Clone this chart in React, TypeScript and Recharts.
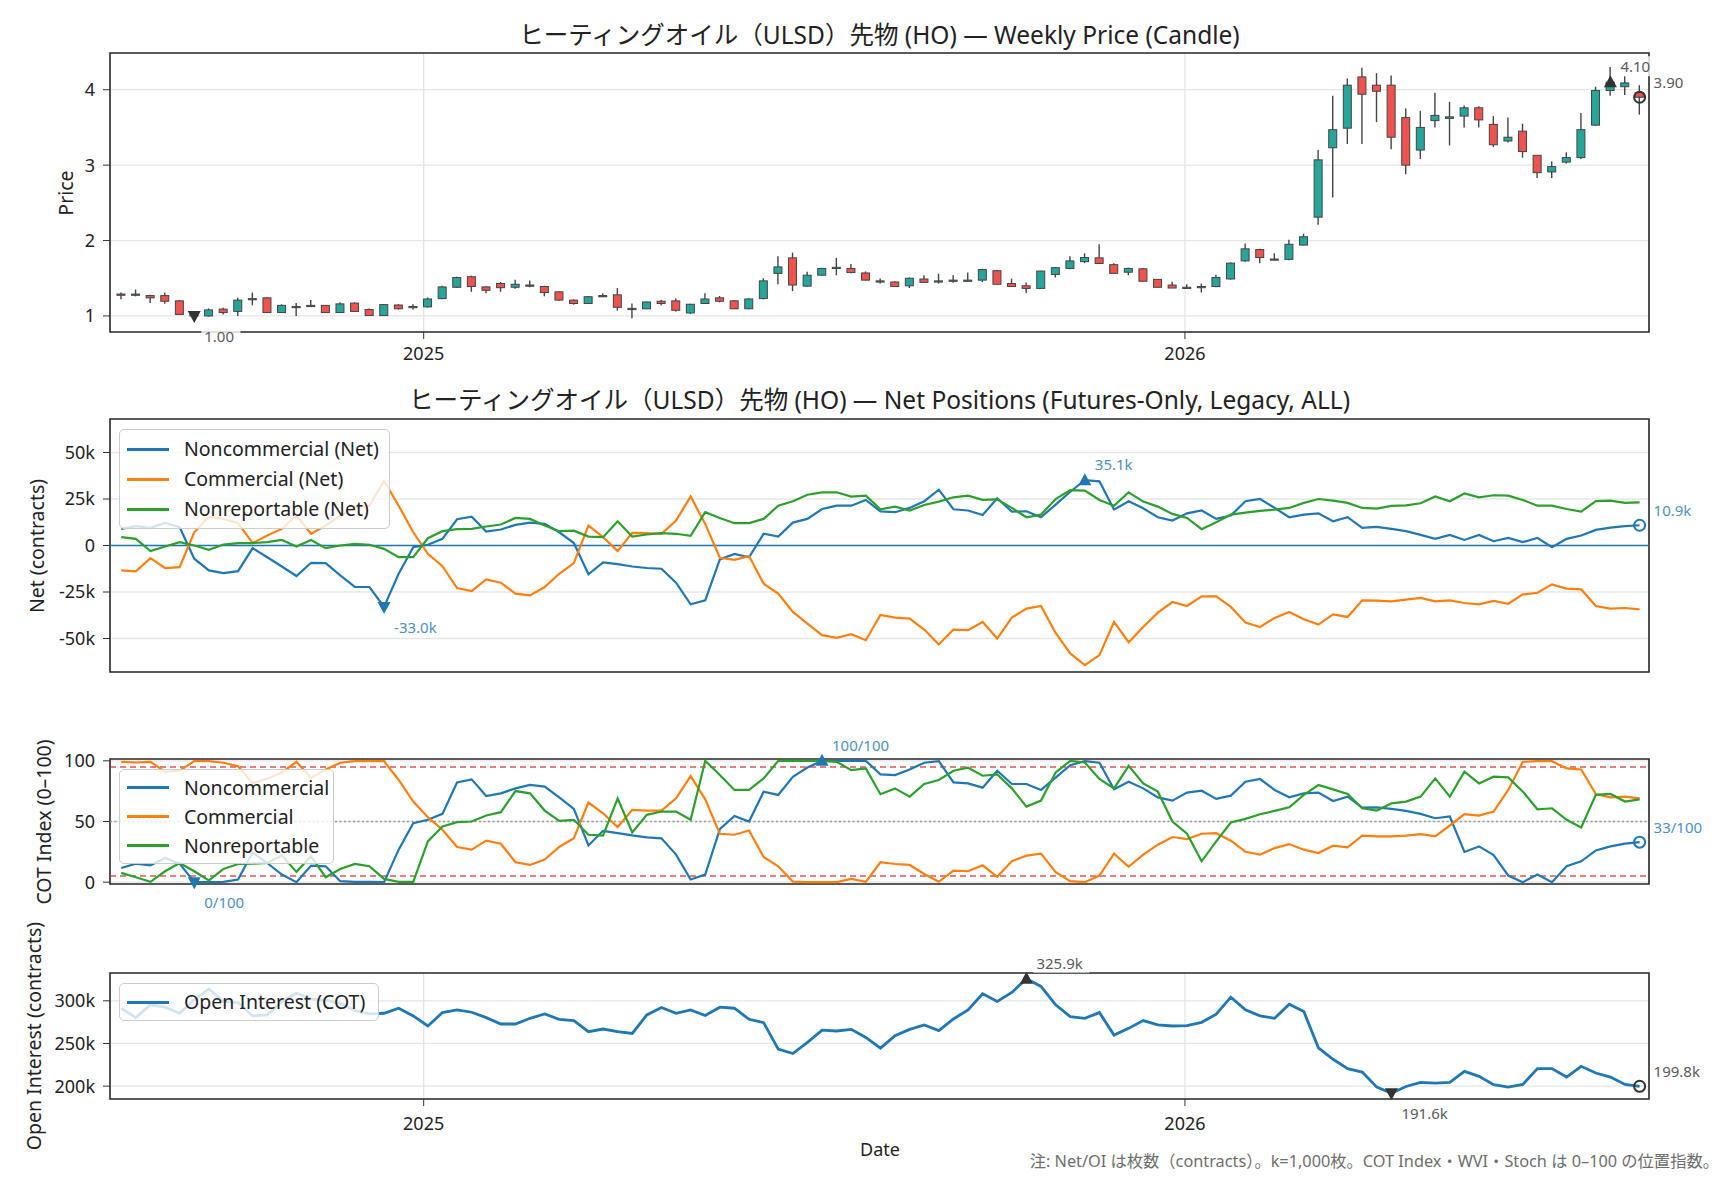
import React from "react";
import {
    Bar,
    CartesianGrid,
    ComposedChart,
    Legend,
    Line,
    ReferenceArea,
    ReferenceLine,
    XAxis,
    YAxis,
} from "recharts";

// weekly bars, first week = 2024-08-09
const FIRST_WEEK = Date.UTC(2024, 7, 9);
const DAY_MS = 24 * 3600 * 1000;
const WEEK_MS = 7 * DAY_MS;
const YEAR_TICKS = [Date.UTC(2025, 0, 1), Date.UTC(2026, 0, 1)];
const X_DOMAIN = [FIRST_WEEK - 5.4 * DAY_MS, FIRST_WEEK + 732.5 * DAY_MS];

const open = [1.29, 1.28, 1.27, 1.27, 1.20, 1.03, 1.00, 1.09, 1.06, 1.22,
    1.24, 1.045, 1.12, 1.135, 1.14, 1.045, 1.17, 1.085, 1.005, 1.145,
    1.12, 1.12, 1.23, 1.38, 1.52, 1.385, 1.43, 1.38, 1.40, 1.39,
    1.32, 1.21, 1.165, 1.26, 1.28, 1.10, 1.095, 1.195, 1.20, 1.04,
    1.165, 1.24, 1.20, 1.095, 1.23, 1.565, 1.77, 1.395, 1.54, 1.635,
    1.63, 1.57, 1.46, 1.45, 1.40, 1.49, 1.455, 1.47, 1.47, 1.475,
    1.60, 1.43, 1.40, 1.365, 1.55, 1.63, 1.72, 1.77, 1.68, 1.58,
    1.625, 1.485, 1.41, 1.38, 1.385, 1.39, 1.49, 1.73, 1.88, 1.75,
    1.75, 1.94, 2.31, 3.23, 3.49, 4.17, 4.06, 4.06, 3.63, 3.20,
    3.59, 3.62, 3.65, 3.76, 3.54, 3.32, 3.45, 3.13, 2.91, 3.04,
    3.10, 3.53, 3.99, 4.04, 3.96];
const high = [1.31, 1.35, 1.28, 1.31, 1.21, 1.05, 1.10, 1.11, 1.24, 1.31,
    1.245, 1.155, 1.17, 1.21, 1.145, 1.18, 1.18, 1.10, 1.155, 1.155,
    1.155, 1.245, 1.40, 1.52, 1.535, 1.395, 1.45, 1.48, 1.47, 1.40,
    1.325, 1.22, 1.265, 1.30, 1.37, 1.165, 1.19, 1.21, 1.23, 1.16,
    1.30, 1.265, 1.21, 1.235, 1.50, 1.79, 1.84, 1.585, 1.64, 1.77,
    1.69, 1.59, 1.495, 1.46, 1.51, 1.54, 1.56, 1.54, 1.575, 1.625,
    1.61, 1.495, 1.445, 1.60, 1.645, 1.79, 1.83, 1.95, 1.70, 1.64,
    1.635, 1.49, 1.455, 1.42, 1.43, 1.545, 1.71, 1.96, 1.89, 1.83,
    2.01, 2.09, 3.20, 3.92, 4.15, 4.29, 4.22, 4.19, 3.75, 3.72,
    3.96, 3.84, 3.79, 3.78, 3.65, 3.63, 3.55, 3.13, 3.05, 3.17,
    3.69, 4.04, 4.30, 4.18, 4.06];
const low = [1.22, 1.26, 1.17, 1.16, 1.02, 0.97, 0.99, 1.02, 1.00, 1.14,
    1.04, 1.04, 1.00, 1.12, 1.04, 1.04, 1.06, 1.00, 1.00, 1.085,
    1.085, 1.11, 1.22, 1.37, 1.32, 1.30, 1.32, 1.36, 1.38, 1.26,
    1.20, 1.15, 1.16, 1.25, 1.07, 0.97, 1.09, 1.14, 1.06, 1.025,
    1.16, 1.18, 1.095, 1.09, 1.22, 1.42, 1.33, 1.39, 1.535, 1.54,
    1.565, 1.47, 1.43, 1.385, 1.37, 1.44, 1.43, 1.44, 1.46, 1.45,
    1.42, 1.39, 1.305, 1.36, 1.51, 1.62, 1.70, 1.69, 1.565, 1.54,
    1.46, 1.38, 1.37, 1.37, 1.31, 1.38, 1.48, 1.72, 1.70, 1.745,
    1.74, 1.935, 2.21, 2.57, 3.28, 3.28, 3.57, 3.21, 2.88, 3.08,
    3.50, 3.26, 3.50, 3.50, 3.24, 3.30, 3.10, 2.83, 2.83, 3.02,
    3.08, 3.52, 3.92, 3.93, 3.67];
const close = [1.28, 1.29, 1.24, 1.195, 1.02, 1.00, 1.08, 1.045, 1.21, 1.23,
    1.045, 1.14, 1.125, 1.14, 1.045, 1.16, 1.06, 1.005, 1.15, 1.095,
    1.125, 1.225, 1.385, 1.51, 1.39, 1.34, 1.375, 1.42, 1.41, 1.31,
    1.21, 1.165, 1.255, 1.27, 1.115, 1.095, 1.185, 1.165, 1.075, 1.155,
    1.225, 1.195, 1.095, 1.225, 1.465, 1.65, 1.41, 1.54, 1.63, 1.645,
    1.575, 1.475, 1.465, 1.39, 1.50, 1.445, 1.465, 1.475, 1.475, 1.615,
    1.42, 1.39, 1.365, 1.595, 1.64, 1.73, 1.775, 1.695, 1.565, 1.63,
    1.46, 1.38, 1.37, 1.38, 1.39, 1.51, 1.70, 1.89, 1.775, 1.755,
    1.95, 2.05, 3.07, 3.47, 4.06, 3.94, 3.98, 3.37, 3.00, 3.50,
    3.66, 3.64, 3.76, 3.60, 3.27, 3.37, 3.18, 2.90, 2.98, 3.10,
    3.47, 3.99, 4.10, 4.09, 3.90];

// net positions, contracts
const ncNet = [8900, 10400, 9500, 12100, 9800, -7100, -13400, -14800, -13800, -1400,
    -6300, -11300, -16400, -9300, -9500, -16100, -22300, -22300, -33000, -15200,
    -900, 400, 3600, 14100, 15500, 7500, 8600, 11100, 12300, 11600,
    7100, 1300, -15500, -9100, -10000, -11300, -12100, -12500, -20000, -31600,
    -29500, -7500, -4500, -6300, 6300, 4800, 12300, 14300, 19600, 21400,
    21400, 24500, 18300, 17900, 20200, 23800, 30000, 19500, 18800, 16400,
    25400, 18200, 18400, 15200, 22000, 28900, 35100, 34500, 19300, 23800,
    20000, 15200, 13400, 17300, 18800, 14300, 16100, 23800, 25000, 20200,
    15200, 16600, 17300, 13000, 15200, 9500, 10000, 8900, 7700, 5700,
    3600, 5700, 3000, 5700, 2300, 4100, 1800, 4100, -900, 3600,
    5400, 8400, 9600, 10400, 10900];
const cNet = [-13400, -13900, -6800, -12100, -11600, 7100, 15500, 14300, 12000, 1300,
    5400, 8900, 16100, 6300, 10700, 16100, 20500, 21400, 34800, 21400,
    7100, -4500, -11100, -22900, -24500, -18200, -20000, -25900, -26800, -22300,
    -15200, -9500, 10700, 4500, -3000, 6800, 6600, 6300, 13400, 26300,
    11600, -6600, -7700, -5700, -20500, -25900, -35700, -42000, -48200, -49600,
    -47700, -50900, -37300, -38800, -39300, -45200, -53200, -45200, -45500, -41100,
    -50000, -38800, -33900, -32500, -47000, -58000, -64300, -58900, -41100, -52000,
    -43800, -36100, -30400, -32500, -27300, -27300, -33000, -41400, -43800, -38900,
    -35700, -39600, -42500, -37000, -38400, -29500, -29600, -30000, -29100, -28200,
    -30000, -29500, -30900, -31600, -29800, -31300, -26300, -25400, -20900, -23200,
    -23600, -32500, -33900, -33600, -34300];
const nrNet = [4500, 3600, -3000, -500, 1800, 0, -2300, 500, 1300, 1300,
    1800, 3000, -500, 3000, -1400, 0, 900, 400, -1800, -6300,
    -6300, 3900, 7700, 8800, 8900, 10200, 11300, 14800, 14300, 10700,
    7700, 8000, 4800, 4500, 13000, 4800, 5900, 6600, 6300, 5200,
    17900, 14800, 12000, 12000, 14300, 21400, 23800, 27300, 28600, 28600,
    26300, 26800, 19500, 20900, 18800, 21800, 23600, 25900, 26800, 24500,
    24800, 20200, 15200, 16600, 25000, 29800, 29500, 24500, 21400, 28600,
    23600, 20900, 17000, 14800, 8800, 12500, 16600, 17700, 18600, 19300,
    20200, 22900, 25000, 24100, 22900, 20200, 19800, 21300, 21600, 22700,
    26400, 23800, 28000, 25900, 27000, 26800, 24500, 21400, 21400, 19600,
    18200, 23900, 24100, 22900, 23200];

// COT index 0-100
const ncIdx = [11.7, 15.3, 13.9, 19.9, 15.3, 0, 0, 0.3, 2.2, 24.6,
    15.8, 6.3, 0, 13.7, 13.1, 0.8, 0.3, 0.3, 0, 26.8,
    48.6, 51.4, 56.3, 82.2, 84.7, 71.0, 73.2, 77.3, 80.1, 78.7,
    69.9, 60.4, 30.3, 42.3, 40.4, 38.5, 36.9, 36.1, 22.7, 2.2,
    6.3, 43.7, 54.6, 50.0, 74.6, 71.9, 86.9, 94.5, 100, 100,
    100, 100, 88.8, 88.3, 92.9, 98.4, 99.7, 82.2, 81.4, 77.9,
    91.8, 80.9, 80.9, 76.0, 86.1, 96.4, 99.7, 98.4, 76.5, 82.8,
    77.3, 69.9, 67.2, 73.8, 75.4, 68.6, 71.3, 82.8, 85.0, 76.0,
    69.9, 73.2, 73.8, 66.9, 70.5, 61.5, 61.7, 60.4, 58.7, 56.3,
    52.7, 54.1, 24.9, 29.5, 22.4, 5.5, 0, 6.3, 0, 13.1,
    17.2, 26.2, 29.5, 31.7, 33];
const cIdx = [99.2, 98.6, 99.2, 91.0, 91.8, 99.7, 99.7, 98.4, 95.6, 81.4,
    85.5, 90.4, 99.2, 86.1, 92.9, 98.4, 99.7, 99.7, 99.7, 84.2,
    66.4, 53.6, 43.2, 29.0, 26.8, 34.2, 31.7, 16.4, 14.2, 18.6,
    29.0, 36.3, 65.6, 56.8, 45.4, 59.6, 59.0, 59.0, 69.1, 87.4,
    68.3, 39.9, 39.1, 42.6, 20.8, 13.1, 0.5, 0, 0, 0,
    2.7, 0.3, 16.4, 15.0, 14.2, 6.8, 0.3, 9.6, 9.0, 13.9,
    4.4, 17.2, 21.9, 23.5, 8.2, 0.8, 0, 5.5, 23.5, 12.6,
    22.7, 30.9, 37.2, 35.5, 39.9, 40.4, 34.2, 25.1, 22.7, 28.1,
    31.4, 26.8, 24.0, 30.1, 28.7, 38.3, 37.7, 37.7, 38.3, 39.6,
    37.7, 46.7, 56.0, 54.9, 58.2, 76.0, 99.2, 99.7, 99.7, 93.7,
    92.9, 72.7, 69.9, 70.5, 69.1];
const nrIdx = [7.7, 4.1, 0.3, 9.0, 15.8, 9.0, 1.4, 10.9, 15.0, 15.3,
    15.8, 22.1, 8.5, 21.3, 4.1, 10.9, 15.0, 13.1, 2.7, 0.3,
    0.3, 33.6, 45.9, 49.5, 50.0, 54.9, 57.7, 75.1, 73.2, 59.0,
    50.5, 51.4, 39.1, 38.3, 69.1, 41.0, 55.5, 58.2, 58.2, 51.4,
    100, 88.3, 76.0, 76.0, 85.5, 100, 100, 100, 100, 99.2,
    92.3, 93.7, 72.5, 77.3, 70.5, 80.9, 84.2, 91.8, 94.3, 87.7,
    88.8, 77.3, 62.3, 67.2, 90.4, 100, 98.6, 85.0, 77.3, 95.9,
    81.4, 74.6, 50.0, 39.9, 17.2, 33.6, 49.2, 52.2, 56.0, 58.7,
    61.7, 71.9, 80.1, 76.5, 72.7, 60.9, 59.0, 65.0, 66.4, 70.5,
    85.5, 70.5, 91.0, 81.4, 86.9, 86.3, 74.6, 60.1, 60.9, 51.4,
    45.1, 71.9, 72.7, 66.4, 68.3];

const openInterest = [291300, 280300, 295300, 292500, 285400, 301200, 313800, 299200, 298000, 282300,
    283500, 299200, 309100, 302000, 300400, 297200, 288600, 284600, 285400, 291300,
    282300, 270500, 286200, 289400, 286600, 280300, 272800, 272800, 279500, 284600,
    278300, 276800, 263800, 266900, 263800, 261800, 283500, 292100, 285400, 289400,
    282700, 292500, 291300, 278300, 274400, 243300, 238200, 251200, 265700, 264600,
    266500, 257100, 244500, 259100, 266500, 271700, 265000, 278700, 289400, 308300,
    299200, 309800, 325900, 316900, 295300, 281500, 279500, 286200, 259800, 267700,
    276800, 271700, 270500, 270900, 274800, 284300, 304300, 289400, 282300, 279500,
    296100, 287400, 244900, 231500, 220500, 216500, 198800, 191600, 199600, 204300,
    203500, 204300, 217300, 211400, 201600, 198800, 202000, 220500, 220500, 210600,
    223200, 215400, 210600, 202000, 199800];

const PRICE_TICKS = [1, 2, 3, 4];
const NET_TICKS = [-50000, -25000, 0, 25000, 50000];
const IDX_TICKS = [0, 50, 100];
const OI_TICKS = [200000, 250000, 300000];

const TITLE_PRICE = "ヒーティングオイル（ULSD）先物 (HO) — Weekly Price (Candle)";
const TITLE_NET = "ヒーティングオイル（ULSD）先物 (HO) — Net Positions (Futures-Only, Legacy, ALL)";
const FOOTNOTE = "注: Net/OI は枚数（contracts）。k=1,000枚。COT Index・WVI・Stoch は 0–100 の位置指数。";

const BLUE = "#1f77b4";
const ORANGE = "#ff7f0e";
const GREEN = "#2ca02c";
const UP = "#26a69a";
const DOWN = "#ef5350";
const SANS = '"Noto Sans", "Noto Sans CJK JP", sans-serif';

const rows = close.map((c, i) => ({
    t: FIRST_WEEK + i * WEEK_MS,
    o: open[i],
    h: high[i],
    l: low[i],
    c,
    range: [low[i], high[i]],
    nc: ncNet[i],
    cm: cNet[i],
    nr: nrNet[i],
    nci: ncIdx[i],
    cmi: cIdx[i],
    nri: nrIdx[i],
    oi: openInterest[i],
}));

const CHART_W = 1728;
const MARGIN_R = 79;
const AXIS_W = 110;

const tickStyle = { fill: "#222", fontSize: 18, fontFamily: SANS };
const yearLabel = (v: number) => String(new Date(v).getUTCFullYear());
const kLabel = (v: number) => (v === 0 ? "0" : `${v / 1000}k`);

function Candle(props: any) {
    const { x, y, width, height, payload } = props;
    if (x == null || y == null) return <g />;
    const top = Math.min(y, y + height);
    const bot = Math.max(y, y + height);
    const { o, h, l, c } = payload;
    const py = (v: number) => top + ((h - v) / (h - l)) * (bot - top);
    const cx = x + width / 2;
    const yo = py(o);
    const yc = py(c);
    const bt = Math.min(yo, yc);
    const bh = Math.max(Math.abs(yo - yc), 1.2);
    return (
        <g>
            <line x1={cx} x2={cx} y1={top} y2={bot} stroke="#444" strokeWidth={1.4} />
            <rect x={x} y={bt} width={width} height={bh} fill={c >= o ? UP : DOWN} stroke="#444" strokeWidth={1} />
        </g>
    );
}

// triangle at max / min, open circle at the last point, each with a value label
function markers(values: number[], color: string, labelColor: string, fmt: (v: number) => string) {
    const minI = values.indexOf(Math.min(...values));
    const maxI = values.indexOf(Math.max(...values));
    const lastI = values.length - 1;
    return (props: any) => {
        const { cx, cy, index } = props;
        if (cx == null || (index !== minI && index !== maxI && index !== lastI)) {
            return <g key={`m${index}`} />;
        }
        const text = fmt(values[index]);
        let shape;
        let lx;
        let ly;
        if (index === lastI) {
            shape = <circle cx={cx} cy={cy} r={5.5} fill="none" stroke={color} strokeWidth={2} />;
            lx = cx + 14;
            ly = cy - 15;
        } else if (index === maxI) {
            shape = <path d={`M${cx},${cy - 7} L${cx + 6.5},${cy + 5} L${cx - 6.5},${cy + 5} Z`} fill={color} />;
            lx = cx + 10;
            ly = cy - 16;
        } else {
            shape = <path d={`M${cx},${cy + 7} L${cx + 6.5},${cy - 5} L${cx - 6.5},${cy - 5} Z`} fill={color} />;
            lx = cx + 10;
            ly = cy + 20;
        }
        const w = text.length * 8.3 + 6;
        return (
            <g key={`m${index}`}>
                {shape}
                <rect x={lx - 3} y={ly - 10} width={w} height={20} fill="#fff" fillOpacity={0.8} />
                <text x={lx} y={ly} dominantBaseline="central" fontSize={15} fontFamily={SANS} fill={labelColor}>
                    {text}
                </text>
            </g>
        );
    };
}

function LegendBox({ items, width, rowH, pad }: { items: { label: string; color: string }[]; width: number; rowH: number; pad: number }) {
    return (
        <div
            style={{
                width,
                boxSizing: "border-box",
                background: "rgba(255,255,255,0.8)",
                border: "1px solid #cccccc",
                borderRadius: 5,
                paddingTop: pad,
                paddingBottom: pad,
                fontFamily: SANS,
                fontSize: 19.5,
                color: "#222",
            }}
        >
            {items.map((it) => (
                <div key={it.label} style={{ display: "flex", alignItems: "center", height: rowH }}>
                    <span style={{ display: "inline-block", width: 42, marginLeft: 7, marginRight: 15, borderTop: `3px solid ${it.color}` }} />
                    <span style={{ whiteSpace: "nowrap", lineHeight: 1 }}>{it.label}</span>
                </div>
            ))}
        </div>
    );
}

function Frame({ y }: { y: number[] }) {
    return (
        <ReferenceArea
            x1={X_DOMAIN[0]}
            x2={X_DOMAIN[1]}
            y1={y[0]}
            y2={y[1]}
            fill="none"
            fillOpacity={0}
            stroke="#2b2b2b"
            strokeWidth={1.6}
            ifOverflow="visible"
        />
    );
}

function Text({ x, y, size, children, rotate, anchor = "center", color = "#222" }: any) {
    const tx = anchor === "end" ? "-100%" : "-50%";
    return (
        <div
            style={{
                position: "absolute",
                left: x,
                top: y,
                transform: `translate(${tx}, -50%)${rotate ? " rotate(-90deg)" : ""}`,
                transformOrigin: anchor === "end" ? "right center" : "center",
                whiteSpace: "nowrap",
                fontSize: size,
                fontFamily: SANS,
                color,
                lineHeight: 1,
            }}
        >
            {children}
        </div>
    );
}

const PRICE_Y = [0.787, 4.487];
const NET_Y = [-68000, 68000];
const IDX_Y = [-1.5, 101.5];
const OI_Y = [184900, 332600];

export default function App() {
    const xAxis = (labels: boolean, tickMargin = 8) => (
        <XAxis
            dataKey="t"
            type="number"
            domain={X_DOMAIN}
            ticks={YEAR_TICKS}
            tickFormatter={yearLabel}
            tick={labels ? tickStyle : false}
            tickLine={{ stroke: "#333" }}
            axisLine={false}
            tickSize={7}
            tickMargin={tickMargin}
            height={30}
        />
    );
    const yAxis = (domain: number[], ticks: number[], fmt?: (v: number) => string) => (
        <YAxis
            type="number"
            domain={domain}
            ticks={ticks}
            tickFormatter={fmt}
            width={AXIS_W}
            tick={tickStyle}
            tickLine={{ stroke: "#333" }}
            axisLine={false}
            tickSize={7}
            tickMargin={8}
        />
    );
    const grid = <CartesianGrid stroke="#e6e6e6" strokeWidth={1.3} />;

    return (
        <div style={{ position: "absolute", left: 0, top: 0, width: 1728, height: 1180, background: "#fff", overflow: "hidden" }}>
            <Text x={879.5} y={35} size={24.5}>{TITLE_PRICE}</Text>
            <Text x={879.5} y={400} size={24.5}>{TITLE_NET}</Text>

            <Text x={66} y={192.5} size={19.5} rotate>Price</Text>
            <Text x={37} y={546} size={19.5} rotate>Net (contracts)</Text>
            <Text x={43.5} y={821.5} size={19.5} rotate>COT Index (0–100)</Text>
            <Text x={34} y={1036} size={19.5} rotate>Open Interest (contracts)</Text>

            <div style={{ position: "absolute", left: 0, top: 0 }}>
                <ComposedChart width={CHART_W} height={380} data={rows} margin={{ top: 53, right: MARGIN_R, bottom: 18, left: 0 }} style={{ overflow: "visible" }}>
                    {grid}
                    {xAxis(true, 8)}
                    {yAxis(PRICE_Y, PRICE_TICKS)}
                    <Frame y={PRICE_Y} />
                    <Bar dataKey="range" barSize={8} shape={Candle} isAnimationActive={false} />
                    <Line
                        dataKey="c"
                        stroke="none"
                        dot={markers(close, "#333", "#5a5a5a", (v) => v.toFixed(2))}
                        activeDot={false}
                        isAnimationActive={false}
                    />
                </ComposedChart>
            </div>

            <div style={{ position: "absolute", left: 0, top: 380 }}>
                <ComposedChart width={CHART_W} height={340} data={rows} margin={{ top: 39, right: MARGIN_R, bottom: 18, left: 0 }} style={{ overflow: "visible" }}>
                    {grid}
                    {xAxis(false)}
                    {yAxis(NET_Y, NET_TICKS, kLabel)}
                    <Frame y={NET_Y} />
                    <ReferenceLine y={0} stroke={BLUE} strokeWidth={1.6} />
                    <Line
                        dataKey="nc"
                        stroke={BLUE}
                        strokeWidth={2.2}
                        dot={markers(ncNet, BLUE, "#4c92c3", (v) => `${(v / 1000).toFixed(1)}k`)}
                        activeDot={false}
                        isAnimationActive={false}
                    />
                    <Line dataKey="cm" stroke={ORANGE} strokeWidth={2.2} dot={false} activeDot={false} isAnimationActive={false} />
                    <Line dataKey="nr" stroke={GREEN} strokeWidth={2.2} dot={false} activeDot={false} isAnimationActive={false} />
                    <Legend
                        layout="vertical"
                        align="center"
                        verticalAlign="middle"
                        wrapperStyle={{ left: 119, top: 49 }}
                        content={() => (
                            <LegendBox
                                width={271}
                                rowH={30}
                                pad={4}
                                items={[
                                    { label: "Noncommercial (Net)", color: BLUE },
                                    { label: "Commercial (Net)", color: ORANGE },
                                    { label: "Nonreportable (Net)", color: GREEN },
                                ]}
                            />
                        )}
                    />
                </ComposedChart>
            </div>

            <div style={{ position: "absolute", left: 0, top: 720 }}>
                <ComposedChart width={CHART_W} height={212} data={rows} margin={{ top: 39, right: MARGIN_R, bottom: 18, left: 0 }} style={{ overflow: "visible" }}>
                    {grid}
                    {xAxis(false)}
                    {yAxis(IDX_Y, IDX_TICKS)}
                    <Frame y={IDX_Y} />
                    <ReferenceLine y={95} stroke="#d62728" strokeOpacity={0.8} strokeWidth={1.5} strokeDasharray="6 4" />
                    <ReferenceLine y={5} stroke="#d62728" strokeOpacity={0.8} strokeWidth={1.5} strokeDasharray="6 4" />
                    <ReferenceLine y={50} stroke="#999" strokeWidth={1.3} strokeDasharray="2 2.5" />
                    <Line
                        dataKey="nci"
                        stroke={BLUE}
                        strokeWidth={2.2}
                        dot={markers(ncIdx, BLUE, "#4c92c3", (v) => `${Math.round(v)}/100`)}
                        activeDot={false}
                        isAnimationActive={false}
                    />
                    <Line dataKey="cmi" stroke={ORANGE} strokeWidth={2.2} dot={false} activeDot={false} isAnimationActive={false} />
                    <Line dataKey="nri" stroke={GREEN} strokeWidth={2.2} dot={false} activeDot={false} isAnimationActive={false} />
                    <Legend
                        layout="vertical"
                        align="center"
                        verticalAlign="middle"
                        wrapperStyle={{ left: 119, top: 49 }}
                        content={() => (
                            <LegendBox
                                width={215}
                                rowH={29}
                                pad={3}
                                items={[
                                    { label: "Noncommercial", color: BLUE },
                                    { label: "Commercial", color: ORANGE },
                                    { label: "Nonreportable", color: GREEN },
                                ]}
                            />
                        )}
                    />
                </ComposedChart>
            </div>

            <div style={{ position: "absolute", left: 0, top: 930 }}>
                <ComposedChart width={CHART_W} height={217} data={rows} margin={{ top: 43, right: MARGIN_R, bottom: 18, left: 0 }} style={{ overflow: "visible" }}>
                    {grid}
                    {xAxis(true, 11)}
                    {yAxis(OI_Y, OI_TICKS, kLabel)}
                    <Frame y={OI_Y} />
                    <Line
                        dataKey="oi"
                        stroke={BLUE}
                        strokeWidth={2.8}
                        dot={markers(openInterest, "#333", "#5a5a5a", (v) => `${(v / 1000).toFixed(1)}k`)}
                        activeDot={false}
                        isAnimationActive={false}
                    />
                    <Legend
                        layout="vertical"
                        align="center"
                        verticalAlign="middle"
                        wrapperStyle={{ left: 119, top: 53 }}
                        content={() => (
                            <LegendBox width={260} rowH={30} pad={3} items={[{ label: "Open Interest (COT)", color: BLUE }]} />
                        )}
                    />
                </ComposedChart>
            </div>

            <Text x={880} y={1149} size={18}>Date</Text>
            <Text x={1719} y={1161} size={16.3} anchor="end" color="#6e6e6e">{FOOTNOTE}</Text>
        </div>
    );
}
